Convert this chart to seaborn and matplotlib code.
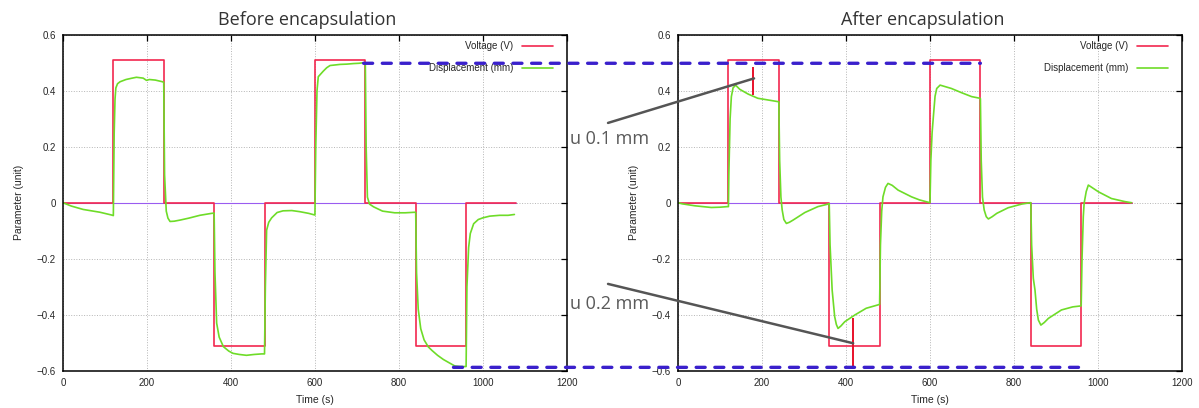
import pandas as pd
import seaborn as sns
import matplotlib.pyplot as plt
from matplotlib.patches import ConnectionPatch

# square-wave drive, same in both runs
volt_t = [0, 120, 120, 240, 240, 360, 360, 480, 480, 600, 600, 720, 720, 840, 840, 960, 960, 1080]
volt_v = [0, 0, 0.51, 0.51, 0, 0, -0.51, -0.51, 0, 0, 0.51, 0.51, 0, 0, -0.51, -0.51, 0, 0]

zero_t = [0, 1080]
zero_v = [0, 0]

# displacement before encapsulation
before_t = [0, 20, 48, 88, 116, 120,
            122, 124, 126, 130, 136, 150, 165, 175, 191, 199, 206, 220, 237, 240,
            242, 246, 250, 255, 265, 279, 300, 326, 354, 360,
            362, 366, 372, 382, 395, 405, 420, 437, 455, 473, 480,
            482, 485, 490, 497, 510, 524, 545, 564, 585, 600,
            602, 605, 608, 614, 620, 628, 636, 648, 660, 676, 692, 705, 716, 720,
            722, 725, 730, 740, 761, 790, 815, 839, 840,
            842, 846, 852, 860, 870, 879, 892, 906, 920, 933, 945, 955, 960,
            962, 966, 970, 978, 989, 1000, 1016, 1040, 1060, 1075]
before_d = [0.0, -0.012, -0.024, -0.034, -0.044, -0.046,
            0.25, 0.37, 0.41, 0.425, 0.432, 0.44, 0.445, 0.448, 0.445, 0.437, 0.44, 0.438, 0.432, 0.43,
            0.1, -0.03, -0.055, -0.067, -0.066, -0.062, -0.055, -0.045, -0.038, -0.037,
            -0.25, -0.43, -0.48, -0.514, -0.53, -0.538, -0.542, -0.545, -0.542, -0.54, -0.54,
            -0.3, -0.098, -0.07, -0.054, -0.035, -0.029, -0.028, -0.032, -0.038, -0.044,
            0.2, 0.40, 0.45, 0.46, 0.47, 0.482, 0.49, 0.492, 0.494, 0.495, 0.497, 0.498, 0.5, 0.5,
            0.2, 0.02, -0.005, -0.015, -0.03, -0.036, -0.036, -0.034, -0.035,
            -0.25, -0.38, -0.45, -0.49, -0.515, -0.528, -0.545, -0.56, -0.572, -0.583, -0.585, -0.585, -0.585,
            -0.3, -0.16, -0.11, -0.075, -0.06, -0.054, -0.048, -0.045, -0.045, -0.042]

# displacement after encapsulation
after_t = [0, 10, 40, 79, 100, 117, 120,
           121, 124, 127, 131, 137, 147, 167, 190, 214, 238, 240,
           242, 245, 248, 252, 258, 265, 274, 302, 333, 357, 360,
           362, 367, 373, 377, 381, 388, 397, 421, 448, 476, 480,
           482, 485, 488, 494, 500, 510, 524, 556, 575, 595, 600,
           602, 605, 608, 612, 616, 624, 651, 675, 699, 719, 720,
           722, 725, 729, 734, 739, 748, 759, 786, 818, 838, 840,
           842, 846, 850, 854, 858, 864, 872, 882, 913, 940, 957, 960,
           962, 965, 967, 972, 977, 985, 1001, 1032, 1064, 1080]
after_d = [0.0, -0.004, -0.011, -0.017, -0.016, -0.014, -0.014,
           0.1, 0.3, 0.379, 0.41, 0.42, 0.405, 0.388, 0.373, 0.367, 0.361, 0.36,
           0.15, 0.02, -0.026, -0.06, -0.074, -0.07, -0.062, -0.035, -0.014, -0.005, -0.003,
           -0.15, -0.312, -0.407, -0.435, -0.449, -0.44, -0.425, -0.401, -0.377, -0.365, -0.363,
           -0.15, -0.03, 0.021, 0.055, 0.069, 0.062, 0.045, 0.021, 0.01, 0.002, 0.0,
           0.15, 0.25, 0.307, 0.38, 0.408, 0.42, 0.408, 0.393, 0.379, 0.373, 0.372,
           0.15, 0.02, -0.026, -0.05, -0.058, -0.05, -0.038, -0.018, -0.005, 0.0, 0.0,
           -0.15, -0.27, -0.312, -0.38, -0.419, -0.437, -0.428, -0.413, -0.383, -0.372, -0.369, -0.368,
           -0.2, -0.05, -0.002, 0.04, 0.063, 0.055, 0.039, 0.015, 0.004, 0.0]

# gaps marked in the "after" panel
gap_t = [179, 417]
gap_lo = [0.385, -0.59]
gap_hi = [0.486, -0.413]
gap_text = ['u 0.1 mm', 'u 0.2 mm']

titles = ['Before encapsulation', 'After encapsulation']
xticks = [0, 200, 400, 600, 800, 1000, 1200]
yticks = [-0.6, -0.4, -0.2, 0, 0.2, 0.4, 0.6]
ytick_labels = ['\u22120.6', '\u22120.4', '\u22120.2', '0', '0.2', '0.4', '0.6']

RED = '#f2284f'
GREEN = '#6edc28'
PURPLE = '#9a5cf0'
BLUE = '#3a20cc'
GREY = '#555555'

sns.set_style('white')
plt.rcParams['font.family'] = ['Liberation Sans', 'DejaVu Sans']

fig = plt.figure(figsize=(11.99, 4.08), dpi=100)
ax1 = fig.add_axes([0.0525, 0.0914, 0.4203, 0.8235])
ax2 = fig.add_axes([0.5655, 0.0914, 0.4203, 0.8235])

volt = pd.DataFrame({'t': volt_t, 'v': volt_v})
zero = pd.DataFrame({'t': zero_t, 'v': zero_v})
disp = [pd.DataFrame({'t': before_t, 'd': before_d}),
        pd.DataFrame({'t': after_t, 'd': after_d})]

for ax, df, title in zip([ax1, ax2], disp, titles):
    sns.lineplot(data=zero, x='t', y='v', ax=ax, color=PURPLE, lw=0.8,
                 estimator=None, sort=False, label='_zero')
    sns.lineplot(data=volt, x='t', y='v', ax=ax, color=RED, lw=1.2,
                 estimator=None, sort=False, label='Voltage (V)')
    sns.lineplot(data=df, x='t', y='d', ax=ax, color=GREEN, lw=1.2,
                 estimator=None, sort=False, label='Displacement (mm)')

    ax.set_xlim(0, 1200)
    ax.set_ylim(-0.6, 0.6)
    ax.set_xticks(xticks)
    ax.set_yticks(yticks)
    ax.set_yticklabels(ytick_labels)
    ax.grid(True, ls=':', color='#b5b5b5', lw=0.7)
    ax.tick_params(direction='in', top=True, right=True, length=4, width=0.9,
                   labelsize=7, pad=5, color='black')
    for s in ax.spines.values():
        s.set_color('black')
        s.set_linewidth(1.1)
    ax.set_xlabel('Time (s)', fontsize=7.5, labelpad=5)
    ax.set_ylabel('Parameter (unit)', fontsize=7.5, labelpad=9)
    ax.set_title(title, fontsize=13, color='#333333', pad=7, x=0.485,
                 family=['Open Sans', 'DejaVu Sans'])
    ax.legend(loc='upper right', bbox_to_anchor=(1.0, 1.021), frameon=False,
              markerfirst=False, fontsize=7, handlelength=3.2, handletextpad=0.9,
              labelspacing=1.2, borderaxespad=1.2, borderpad=0.2)

# gap markers and their callouts
ax2.vlines(gap_t, gap_lo, gap_hi, color='#e8102a', lw=1.4, zorder=5)
ax2.plot([-166.7, 181], [0.285, 0.444], color=GREY, lw=1.8, clip_on=False, zorder=6)
ax2.plot([-166.7, 417], [-0.290, -0.502], color=GREY, lw=1.8, clip_on=False, zorder=6)
fig.text(0.4754, 0.647, gap_text[0], fontsize=13, color='#5a5a5a',
         family=['Open Sans', 'DejaVu Sans'], va='baseline')
fig.text(0.4754, 0.243, gap_text[1], fontsize=13, color='#5a5a5a',
         family=['Open Sans', 'DejaVu Sans'], va='baseline')

# dashed reference levels carried across both panels
for (ta, tb, lvl) in [(716, 720, 0.498), (930, 960, -0.588)]:
    con = ConnectionPatch(xyA=(ta, lvl), coordsA=ax1.transData,
                          xyB=(tb, lvl), coordsB=ax2.transData,
                          color=BLUE, lw=2.4, linestyle=(0, (2.7, 2.9)), zorder=7)
    fig.add_artist(con)

fig.savefig('out.png', dpi=100)
